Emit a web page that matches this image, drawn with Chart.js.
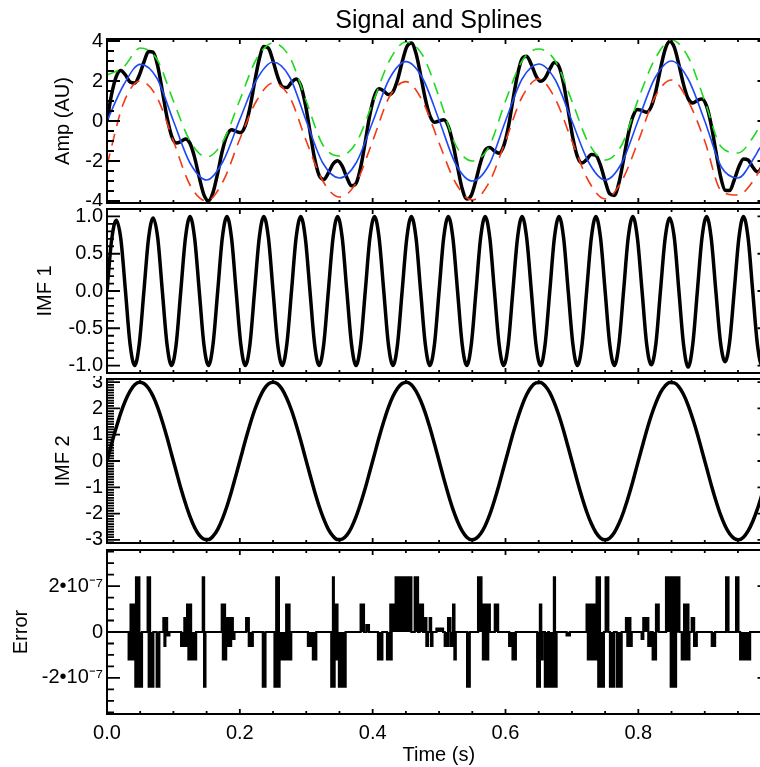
<!DOCTYPE html>
<html><head><meta charset="utf-8">
<script src="https://cdn.jsdelivr.net/npm/chart.js@4/dist/chart.umd.min.js"></script>
<style>
html,body{margin:0;padding:0;background:#fff;overflow:hidden;width:760px;height:767px;}
#wrap{position:relative;width:772px;height:767px;}
canvas{position:absolute;left:0;}
</style></head><body>
<div id="wrap">
<canvas id="c1" width="772" height="206" style="top:0px"></canvas>
<canvas id="c2" width="772" height="170" style="top:206px"></canvas>
<canvas id="c3" width="772" height="170" style="top:376px"></canvas>
<canvas id="c4" width="772" height="221" style="top:546px"></canvas>
</div>
<script>
// ---------------- DATA ----------------
const time = [0, 0.0069, 0.0139, 0.0208, 0.0278, 0.0347, 0.0417, 0.0486, 0.0556, 0.0625, 0.0694, 0.0764, 0.0833, 0.0903, 0.0972, 0.1042, 0.1111, 0.1181, 0.125, 0.1319, 0.1389, 0.1458, 0.1528, 0.1597, 0.1667, 0.1736, 0.1806, 0.1875, 0.1944, 0.2014, 0.2083, 0.2153, 0.2222, 0.2292, 0.2361, 0.2431, 0.25, 0.2569, 0.2639, 0.2708, 0.2778, 0.2847, 0.2917, 0.2986, 0.3056, 0.3125, 0.3194, 0.3264, 0.3333, 0.3403, 0.3472, 0.3542, 0.3611, 0.3681, 0.375, 0.3819, 0.3889, 0.3958, 0.4028, 0.4097, 0.4167, 0.4236, 0.4306, 0.4375, 0.4444, 0.4514, 0.4583, 0.4653, 0.4722, 0.4792, 0.4861, 0.4931, 0.5, 0.5069, 0.5139, 0.5208, 0.5278, 0.5347, 0.5417, 0.5486, 0.5556, 0.5625, 0.5694, 0.5764, 0.5833, 0.5903, 0.5972, 0.6042, 0.6111, 0.6181, 0.625, 0.6319, 0.6389, 0.6458, 0.6528, 0.6597, 0.6667, 0.6736, 0.6806, 0.6875, 0.6944, 0.7014, 0.7083, 0.7153, 0.7222, 0.7292, 0.7361, 0.7431, 0.75, 0.7569, 0.7639, 0.7708, 0.7778, 0.7847, 0.7917, 0.7986, 0.8056, 0.8125, 0.8194, 0.8264, 0.8333, 0.8403, 0.8472, 0.8542, 0.8611, 0.8681, 0.875, 0.8819, 0.8889, 0.8958, 0.9028, 0.9097, 0.9167, 0.9236, 0.9306, 0.9375, 0.9444, 0.9514, 0.9583, 0.9653, 0.9722, 0.9792, 0.9861, 0.9931, 0.999];

const signal = [
 0, 1.33, 2.22, 2.53, 2.30, 1.95, 1.90, 2.29,
 2.95, 3.47, 3.44, 2.74, 1.50, 0.19, -0.74, -1.10,
 -1.03, -0.90, -1.12, -1.82, -2.82, -3.68, -3.99, -3.57,
 -2.60, -1.50, -0.72, -0.44, -0.52, -0.58, -0.22, 0.68,
 1.93, 3.09, 3.72, 3.64, 3.00, 2.22, 1.72, 1.67,
 1.93, 2.10, 1.78, 0.84, -0.52, -1.86, -2.72, -2.92,
 -2.60, -2.15, -1.99, -2.26, -2.82, -3.24, -3.12, -2.32,
 -1.03, 0.32, 1.26, 1.61, 1.50, 1.32, 1.46, 2.06,
 2.95, 3.71, 3.90, 3.37, 2.30, 1.12, 0.27, -0.06,
 0, 0.06, -0.27, -1.12, -2.30, -3.37, -3.90, -3.71,
 -2.95, -2.06, -1.46, -1.32, -1.50, -1.61, -1.26, -0.32,
 1.03, 2.32, 3.12, 3.24, 2.82, 2.26, 1.99, 2.15,
 2.60, 2.92, 2.72, 1.86, 0.52, -0.84, -1.78, -2.10,
 -1.93, -1.67, -1.72, -2.22, -3.00, -3.64, -3.72, -3.09,
 -1.93, -0.68, 0.22, 0.58, 0.52, 0.44, 0.72, 1.50,
 2.60, 3.57, 3.97, 3.68, 2.82, 1.82, 1.12, 0.90,
 1.03, 1.10, 0.74, -0.19, -1.50, -2.74, -3.46, -3.48,
 -2.95, -2.29, -1.90, -1.95, -2.30, -2.54, -2.27, -1.36,
 -0.20];

const imf1 = [
 0, 0.68, 0.95, 0.70, 0, -0.71, -1.00, -0.71,
 0, 0.70, 0.98, 0.71, 0, -0.71, -1.00, -0.71,
 0, 0.71, 1.00, 0.71, 0, -0.71, -1.00, -0.71,
 0, 0.71, 1.00, 0.71, 0, -0.71, -1.00, -0.71,
 0, 0.71, 1.00, 0.71, 0, -0.71, -1.00, -0.71,
 0, 0.71, 1.00, 0.71, 0, -0.71, -1.00, -0.71,
 0, 0.71, 1.00, 0.71, 0, -0.71, -1.00, -0.71,
 0, 0.71, 1.00, 0.71, 0, -0.71, -1.00, -0.71,
 0, 0.71, 1.00, 0.71, 0, -0.71, -1.00, -0.71,
 0, 0.71, 1.00, 0.71, 0, -0.71, -1.00, -0.71,
 0, 0.71, 1.00, 0.71, 0, -0.71, -1.00, -0.71,
 0, 0.71, 1.00, 0.71, 0, -0.71, -1.00, -0.71,
 0, 0.71, 1.00, 0.71, 0, -0.71, -1.00, -0.71,
 0, 0.71, 1.00, 0.71, 0, -0.71, -1.00, -0.71,
 0, 0.71, 1.00, 0.71, 0, -0.71, -0.99, -0.71,
 0, 0.70, 0.98, 0.71, 0, -0.72, -1.02, -0.72,
 0, 0.71, 1.00, 0.71, 0, -0.68, -0.95, -0.68,
 0, 0.71, 1.00, 0.71, 0, -0.71, -1.00, -0.71,
 -0.11];

const imf2 = [
 0, 0.65, 1.27, 1.83, 2.30, 2.66, 2.90, 3.00,
 2.95, 2.77, 2.46, 2.03, 1.50, 0.90, 0.26, -0.39,
 -1.03, -1.61, -2.12, -2.53, -2.82, -2.97, -2.99, -2.86,
 -2.60, -2.21, -1.72, -1.15, -0.52, 0.13, 0.78, 1.39,
 1.93, 2.38, 2.72, 2.93, 3.00, 2.93, 2.72, 2.38,
 1.93, 1.39, 0.78, 0.13, -0.52, -1.15, -1.72, -2.21,
 -2.60, -2.86, -2.99, -2.97, -2.82, -2.53, -2.12, -1.61,
 -1.03, -0.39, 0.26, 0.90, 1.50, 2.03, 2.46, 2.77,
 2.95, 3.00, 2.90, 2.66, 2.30, 1.83, 1.27, 0.65,
 0, -0.65, -1.27, -1.83, -2.30, -2.66, -2.90, -3.00,
 -2.95, -2.77, -2.46, -2.03, -1.50, -0.90, -0.26, 0.39,
 1.03, 1.61, 2.12, 2.53, 2.82, 2.97, 2.99, 2.86,
 2.60, 2.21, 1.72, 1.15, 0.52, -0.13, -0.78, -1.39,
 -1.93, -2.38, -2.72, -2.93, -3.00, -2.93, -2.72, -2.38,
 -1.93, -1.39, -0.78, -0.13, 0.52, 1.15, 1.72, 2.21,
 2.60, 2.86, 2.99, 2.97, 2.82, 2.53, 2.12, 1.61,
 1.03, 0.39, -0.26, -0.90, -1.50, -2.03, -2.46, -2.77,
 -2.95, -3.00, -2.90, -2.66, -2.30, -1.83, -1.27, -0.65,
 -0.09];

const envTime = [0, 0.025, 0.05, 0.075, 0.1, 0.125, 0.15, 0.175, 0.2, 0.225, 0.25, 0.275, 0.3, 0.325, 0.35, 0.375, 0.4, 0.425, 0.45, 0.475, 0.5, 0.525, 0.55, 0.575, 0.6, 0.625, 0.65, 0.675, 0.7, 0.725, 0.75, 0.775, 0.8, 0.825, 0.85, 0.875, 0.9, 0.925, 0.95, 0.975, 0.982, 0.999];
const upperEnvelope = [2.3, 2.7, 3.65, 3.1, 1.0, -1.0, -1.8, -1.0, 1.05, 3.1, 3.9, 3.2, 1.0, -1.2, -1.75, -1.1, 0.9, 3.0, 3.95, 3.3, 1.2, -1.2, -2.0, -1.3, 1.0, 3.0, 3.6, 3.0, 1.0, -1.1, -1.95, -1.2, 1.1, 3.1, 4.05, 3.2, 1.0, -1.3, -1.6, -0.7, -0.3, 0.4];
const lowerEnvelope = [-2.2, 0.9, 2.0, 1.2, -1.0, -3.2, -4.0, -3.0, -0.9, 1.0, 1.9, 1.2, -1.0, -3.0, -3.8, -3.1, -1.0, 1.2, 1.97, 1.0, -1.1, -3.1, -3.95, -3.1, -1.0, 1.2, 2.1, 1.1, -1.0, -3.0, -3.9, -3.0, -1.0, 1.2, 2.05, 1.0, -1.0, -3.5, -3.7, -2.9, -2.5, -1.8];
const meanEnvelope = [0, 1.8, 2.83, 2.15, 0.0, -2.1, -2.95, -2.0, 0.08, 2.05, 2.95, 2.2, 0.0, -2.1, -2.85, -2.1, -0.05, 2.1, 2.97, 2.15, 0.05, -2.15, -3.0, -2.2, 0.0, 2.1, 2.85, 2.05, 0.0, -2.05, -2.95, -2.1, 0.05, 2.15, 3.0, 2.1, 0.0, -2.3, -2.85, -1.8, -1.4, -0.7];

const errorTime = [0, 0.0326, 0.0355, 0.0365, 0.0375, 0.0386, 0.0395, 0.0427, 0.0437, 0.0447, 0.0457, 0.0467, 0.0477, 0.0487, 0.0527,
 0.0612, 0.0628, 0.0638, 0.0648, 0.0698, 0.0748, 0.0788, 0.0849, 0.0865, 0.0879, 0.0905, 0.0939,
 0.1116, 0.1165, 0.1185, 0.1206, 0.1226, 0.1246, 0.1266, 0.1342, 0.1442, 0.1462, 0.1482,
 0.1728, 0.1745, 0.1760, 0.1777, 0.1794, 0.1810, 0.1830, 0.1850, 0.1869, 0.1894, 0.1919,
 0.2095, 0.2135, 0.2195, 0.2346, 0.2386, 0.2522, 0.2548, 0.2560, 0.2575, 0.2588, 0.2598, 0.2698, 0.2720, 0.2735, 0.2748, 0.2774,
 0.3025, 0.3100, 0.3151, 0.3377, 0.3402, 0.3415, 0.3427, 0.3440, 0.3452, 0.3470, 0.3492, 0.3593,
 0.3819, 0.3869, 0.3905, 0.3944, 0.4080, 0.4146, 0.4216, 0.4266, 0.4276, 0.4286,
 0.4346, 0.4370, 0.4385, 0.4420, 0.4435, 0.4480, 0.4490, 0.4540, 0.4550, 0.4583, 0.4633, 0.4683, 0.4708, 0.4758,
 0.4784, 0.4809, 0.4834, 0.4859, 0.4880, 0.4900, 0.4960, 0.5060, 0.5085, 0.5135, 0.5171, 0.5211, 0.5231, 0.5251,
 0.5422, 0.5462, 0.5587, 0.5638, 0.5660, 0.5690, 0.5710, 0.5740, 0.5764, 0.5839, 0.5889,
 0.6055, 0.6106, 0.6156, 0.6477, 0.6518, 0.6538, 0.6558, 0.6593, 0.6643, 0.6653, 0.6729, 0.6745, 0.6769, 0.6920, 0.6970,
 0.7221, 0.7240, 0.7260, 0.7280, 0.7300, 0.7322, 0.7340, 0.7360, 0.7372, 0.7397, 0.7410, 0.7422, 0.7482,
 0.7508, 0.7548, 0.7573, 0.7633, 0.7674, 0.7749, 0.7814, 0.7835, 0.7860, 0.7880, 0.7900,
 0.8050, 0.8075, 0.8150, 0.8186, 0.8216, 0.8266, 0.8307,
 0.8417, 0.8488, 0.8500, 0.8515, 0.8530, 0.8545, 0.8568, 0.8578, 0.8618,
 0.8654, 0.8689, 0.8710, 0.8730, 0.8754, 0.8769, 0.8804, 0.8840, 0.8880,
 0.9106, 0.9156, 0.9322, 0.9357, 0.9472, 0.9507, 0.9533, 0.9683, 0.999];
const errorValue = [0, -1.19e-7, 1.19e-7, -1.19e-7, 1.19e-7, -1.19e-7, 1.19e-7, -2.38e-7, 2.38e-7, -2.38e-7, 2.38e-7, -2.38e-7, 2.38e-7, -2.38e-7, 0,
 2.38e-7, -2.38e-7, 2.38e-7, -2.38e-7, 0, -2.38e-7, 0, 0.6e-7, -0.6e-7, 0.6e-7, -0.15e-7, 0,
 -0.6e-7, 0.6e-7, -0.6e-7, 1.19e-7, -1.19e-7, 1.19e-7, -1.19e-7, 0, 2.38e-7, -2.38e-7, 0,
 1.19e-7, -1.19e-7, 1.19e-7, -1.19e-7, 0.6e-7, -0.6e-7, 0.6e-7, -0.6e-7, 0.6e-7, -0.3e-7, 0,
 0.6e-7, -0.6e-7, 0, -2.38e-7, 0, -2.38e-7, 2.38e-7, -2.38e-7, 2.38e-7, -2.38e-7, -1.19e-7, 1.19e-7, -1.19e-7, 1.19e-7, -1.19e-7, 0,
 -0.6e-7, -1.19e-7, 0, -2.38e-7, 2.38e-7, -2.38e-7, 1.19e-7, -1.19e-7, 1.19e-7, -1.19e-7, -2.38e-7, 0,
 1.19e-7, 0, 0.3e-7, 0, -1.19e-7, 0, -1.19e-7, 1.19e-7, -1.19e-7, 1.19e-7,
 2.38e-7, 1.19e-7, 2.38e-7, 1.19e-7, 2.38e-7, 1.19e-7, 2.38e-7, 1.19e-7, 2.38e-7, 0, 2.38e-7, 0, 1.19e-7, 0,
 0.6e-7, -0.6e-7, 0, 0.6e-7, -0.6e-7, 0, 0.15e-7, 0, -0.6e-7, 0.6e-7, -0.6e-7, 1.19e-7, -1.19e-7, 0,
 -2.38e-7, 0, 2.38e-7, 1.19e-7, -1.19e-7, 1.19e-7, -1.19e-7, 1.19e-7, 0, 1.19e-7, 0,
 -0.6e-7, -1.19e-7, 0, -2.38e-7, 1.19e-7, -1.19e-7, 0, -2.38e-7, 0, -2.38e-7, 2.38e-7, -2.38e-7, 0, -0.15e-7, 0,
 1.19e-7, -1.19e-7, 1.19e-7, -1.19e-7, 1.19e-7, -1.19e-7, 1.19e-7, -1.19e-7, 2.38e-7, -2.38e-7, 2.38e-7, -2.38e-7, 0,
 2.38e-7, 0, -2.38e-7, 0, -2.38e-7, 0, 0.6e-7, -0.6e-7, 0.6e-7, -0.6e-7, 0,
 -0.3e-7, 0.6e-7, -0.6e-7, 0, -1.19e-7, 1.19e-7, 0,
 2.38e-7, -2.38e-7, 2.38e-7, -2.38e-7, 2.38e-7, -2.38e-7, 0, 2.38e-7, 0,
 -1.19e-7, 1.19e-7, -1.19e-7, 1.19e-7, -1.19e-7, 0, 0.6e-7, -0.6e-7, 0,
 -0.6e-7, 0, 2.38e-7, 0, 2.38e-7, 0, -1.19e-7, 0, 0];

// tick values and labels
const xTicks = [0, 0.2, 0.4, 0.6, 0.8];
const xTickLabels = ['0.0', '0.2', '0.4', '0.6', '0.8'];
const ampTicks = [-4, -2, 0, 2, 4];
const ampTickLabels = ['-4', '-2', '0', '2', '4'];
const imf1Ticks = [-1, -0.5, 0, 0.5, 1];
const imf1TickLabels = ['-1.0', '-0.5', '0.0', '0.5', '1.0'];
const imf2Ticks = [-3, -2, -1, 0, 1, 2, 3];
const imf2TickLabels = ['-3', '-2', '-1', '0', '1', '2', '3'];
const errTicks = [-2e-7, 0, 2e-7];
const errTickLabels = ['-2\u202210\u207B\u2077', '0', '2\u202210\u207B\u2077'];

// ---------------- RENDERING ----------------
const FONT = '"Liberation Sans", Arial, Helvetica, sans-serif';
const X_MIN = 0, X_MAX = 0.999;
function steps(a, b, d) { const out = []; const n = Math.round((b - a) / d); for (let i = 0; i <= n; i++) out.push(+(a + i * d).toFixed(10)); return out; }
const xMinorTicks = steps(0, 0.95, 0.05);

function pts(xs, ys) { return xs.map((x, i) => ({x: x, y: ys[i]})); }

const frameTicks = {
  id: 'frameTicks',
  afterDatasetsDraw(chart, args, o) {
    const {ctx, chartArea: a} = chart;
    const xs = chart.scales.x, ys = chart.scales.y;
    ctx.save();
    ctx.strokeStyle = '#000';
    ctx.lineWidth = 1.8;
    ctx.beginPath();
    const yt = (vals, len) => vals.forEach(v => { const p = ys.getPixelForValue(v); ctx.moveTo(a.left, p); ctx.lineTo(a.left + len, p); ctx.moveTo(a.right, p); ctx.lineTo(a.right - len, p); });
    const xt = (vals, len) => vals.forEach(v => { const p = xs.getPixelForValue(v); ctx.moveTo(p, a.bottom); ctx.lineTo(p, a.bottom - len); ctx.moveTo(p, a.top); ctx.lineTo(p, a.top + len); });
    yt(o.yMinor, 7); yt(o.yMajor, 13); xt(xMinorTicks, 3); xt(xTicks, 5);
    ctx.stroke();
    ctx.lineWidth = 2;
    ctx.strokeRect(a.left, a.top, a.right - a.left, a.bottom - a.top);
    ctx.restore();
  }
};

function yScale(c) {
  return {
    type: 'linear', min: c.min, max: c.max,
    afterFit: s => { s.width = 107 - c.padLeft; s.paddingTop = 0; s.paddingBottom = 0; },
    afterBuildTicks: s => { s.ticks = c.ticks.map(v => ({value: v})); },
    ticks: {font: {family: FONT, size: 20}, color: '#000', padding: 4, autoSkip: false,
      callback: (v, i) => c.labels[i]},
    grid: {display: false, drawTicks: false}, border: {display: false},
    title: {display: true, text: c.title, font: {family: FONT, size: 20}, color: '#000', padding: 0}
  };
}
function hiddenX() { return {type: 'linear', min: X_MIN, max: X_MAX, display: false}; }
function lineDs(xs, ys, color, width, extra) {
  return Object.assign({data: pts(xs, ys), borderColor: color, borderWidth: width, pointRadius: 0,
    fill: false, cubicInterpolationMode: 'monotone'}, extra || {});
}
function baseOptions(pad, scales, tick, extraPlugins) {
  return {
    responsive: false, animation: false, devicePixelRatio: 1,
    layout: {padding: pad},
    scales: scales,
    plugins: Object.assign({legend: {display: false}, tooltip: {enabled: false}, frameTicks: tick}, extraPlugins || {})
  };
}

new Chart(document.getElementById('c1'), {
  type: 'line',
  data: {datasets: [
    lineDs(envTime, meanEnvelope, '#1f48f5', 1.6, {order: 1}),
    lineDs(envTime, lowerEnvelope, '#f23a14', 1.6, {order: 2, borderDash: [12, 8]}),
    lineDs(envTime, upperEnvelope, '#1fd91f', 1.6, {order: 3, borderDash: [12, 8]}),
    lineDs(time, signal, '#000', 3.5, {order: 4})
  ]},
  options: baseOptions({left: 51, right: 1.5, top: 0, bottom: 3},
    {x: hiddenX(), y: yScale({min: -4.1, max: 4.1, padLeft: 51, ticks: ampTicks, labels: ampTickLabels, title: 'Amp (AU)'})},
    {yMajor: ampTicks, yMinor: steps(-4, 4, 0.5)},
    {title: {display: true, text: 'Signal and Splines', fullSize: false, color: '#000',
      font: {family: FONT, size: 25, weight: 'normal'}, padding: {top: 6, bottom: 3}}}),
  plugins: [frameTicks]
});

new Chart(document.getElementById('c2'), {
  type: 'line',
  data: {datasets: [lineDs(time, imf1, '#000', 3.5)]},
  options: baseOptions({left: 33, right: 1.5, top: 3, bottom: 3},
    {x: hiddenX(), y: yScale({min: -1.1, max: 1.1, padLeft: 33, ticks: imf1Ticks, labels: imf1TickLabels, title: 'IMF 1'})},
    {yMajor: imf1Ticks, yMinor: steps(-1.1, 1.1, 0.1)}),
  plugins: [frameTicks]
});

new Chart(document.getElementById('c3'), {
  type: 'line',
  data: {datasets: [lineDs(time, imf2, '#000', 3.5)]},
  options: baseOptions({left: 51, right: 1.5, top: 3, bottom: 3},
    {x: hiddenX(), y: yScale({min: -3.12, max: 3.12, padLeft: 51, ticks: imf2Ticks, labels: imf2TickLabels, title: 'IMF 2'})},
    {yMajor: imf2Ticks, yMinor: steps(-3.1, 3.1, 0.1)}),
  plugins: [frameTicks]
});

new Chart(document.getElementById('c4'), {
  type: 'line',
  data: {datasets: [{data: pts(errorTime, errorValue), borderColor: '#000', backgroundColor: '#000',
    borderWidth: 2.2, pointRadius: 0, fill: 'origin', stepped: true}]},
  options: baseOptions({left: 9, right: 1.5, top: 4, bottom: 0},
    {x: {type: 'linear', min: X_MIN, max: X_MAX,
        afterFit: s => { s.height = 53; s.paddingLeft = 0; s.paddingRight = 0; },
        afterBuildTicks: s => { s.ticks = xTicks.map(v => ({value: v})); },
        ticks: {font: {family: FONT, size: 20}, color: '#000', padding: 7, autoSkip: false, maxRotation: 0,
          callback: (v, i) => xTickLabels[i]},
        grid: {display: false, drawTicks: false}, border: {display: false},
        title: {display: true, text: 'Time (s)', font: {family: FONT, size: 20}, color: '#000', padding: 0}},
     y: yScale({min: -3.57e-7, max: 3.57e-7, padLeft: 9, ticks: errTicks, labels: errTickLabels, title: 'Error'})},
    {yMajor: errTicks, yMinor: steps(-3.5e-7, 3.5e-7, 0.5e-7)}),
  plugins: [frameTicks]
});
</script>
</body></html>
